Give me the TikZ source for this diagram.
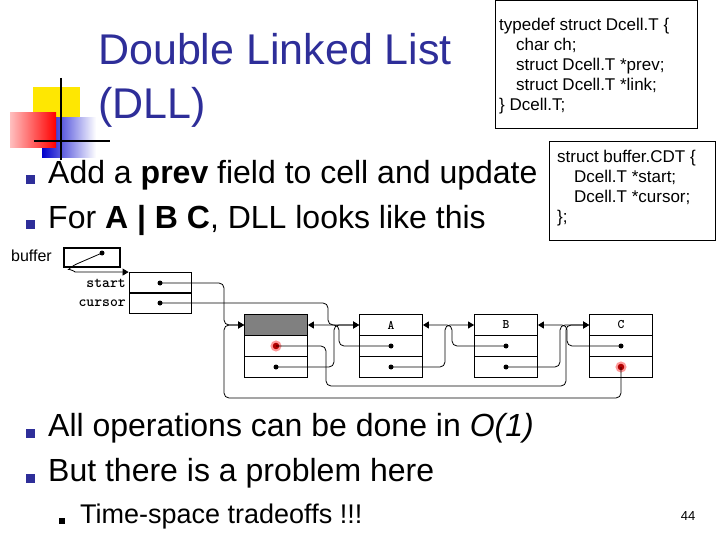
\documentclass[tikz,border=0pt]{standalone}
\usepackage{fontspec}
\setmainfont{Liberation Sans}
\usetikzlibrary{arrows.meta,shadings}
\definecolor{navy}{HTML}{2E2E99}
\begin{document}
\begin{tikzpicture}[x=1pt,y=-1pt,
  cellrow/.style={draw,thick,minimum width=63pt,minimum height=21pt,inner sep=0pt},
  dot/.style={circle,fill=black,inner sep=0pt,minimum size=5pt},
  reddot/.style={circle,fill=red!70!black,draw=red!40,line width=2pt,inner sep=0pt,minimum size=9pt},
  ptr/.style={line width=0.8pt,rounded corners=5pt,-{Triangle[length=6pt,width=7pt]}},
  bul/.style={fill=navy,minimum size=9pt,inner sep=0pt},
  codebox/.style={draw,thick,anchor=north west,inner sep=0pt},
  codetxt/.style={anchor=north west,align=left,inner sep=0pt,font=\fontsize{17}{20}\selectfont},
  big/.style={anchor=west,font=\fontsize{32}{35}\selectfont,inner sep=0pt},
  lab/.style={font=\ttfamily\bfseries\fontsize{15}{15}\selectfont,anchor=east,inner sep=1pt}]
\useasboundingbox (0,0) rectangle (720,540);
% logo
\fill[yellow!90!orange] (33,87) rectangle (80,120);
\shade[left color=blue!80!black,right color=white] (42,118) rectangle (96,158);
\shade[left color=red!25,right color=red] (10,113) rectangle (56,148);
\draw[line width=1.5pt] (61,78) -- (61,160);
\draw[line width=1.5pt] (34,141) -- (110,141);
% title
\node[anchor=west,text=navy,font=\fontsize{43}{54}\selectfont,align=left,inner sep=0pt] (title) at (98,80) {Double Linked List\\(DLL)};
% code boxes
\node[codebox,minimum width=202pt,minimum height=128pt] (code1) at (495,0) {};
\node[codetxt] (code1t) at (499,18) {typedef struct Dcell.T \{\\\quad char ch;\\\quad struct Dcell.T *prev;\\\quad struct Dcell.T *link;\\\} Dcell.T;};
\node[codebox,minimum width=166pt,minimum height=99pt] (code2) at (549,141) {};
\node[codetxt] (code2t) at (557,150) {struct buffer.CDT \{\\\quad Dcell.T *start;\\\quad Dcell.T *cursor;\\\};};
% bullets
\node[bul] (b1) at (30,180) {}; \node[big] (t1) at (48,175) {Add a \textbf{prev} field to cell and update};
\node[bul] (b2) at (30,225) {}; \node[big] (t2) at (48,220) {For \textbf{A | B C}, DLL looks like this};
\node[bul] (b3) at (30,433) {}; \node[big] (t3) at (48,428) {All operations can be done in \textit{O(1)}};
\node[bul] (b4) at (30,478) {}; \node[big] (t4) at (48,473) {But there is a problem here};
\node[fill=black,minimum size=6pt,inner sep=0pt] (b5) at (62,521) {}; \node[anchor=west,font=\fontsize{27}{30}\selectfont,inner sep=0pt] (t5) at (80,517) {Time-space tradeoffs !!!};
\node[font=\fontsize{13}{13}\selectfont] (pg) at (688,516) {44};
% buffer
\node[anchor=west,font=\fontsize{16}{16}\selectfont,inner sep=0pt] (buflab) at (11,256) {buffer};
\node[draw,line width=2pt,minimum width=56pt,minimum height=19pt,inner sep=0pt] (buf) at (92,257) {};
\node[dot] (bufd) at (102,253) {};
% struct
\node[cellrow,minimum width=62pt] (st) at (160,283) {}; \node[cellrow,minimum width=62pt] (cu) at (160,303) {};
\node[lab] (stl) at (127,283) {start}; \node[lab] (cul) at (127,303) {cursor};
\node[dot] (std) at (160,283) {}; \node[dot] (cud) at (160,303) {};
% cells
\foreach \n/\x/\c in {z/276/, a/391/A, b/506/B, c/621/C}{
  \node[cellrow,font=\ttfamily\bfseries\fontsize{13}{13}\selectfont] (\n0) at (\x,325) {\c};
  \node[cellrow] (\n1) at (\x,346) {};
  \node[cellrow] (\n2) at (\x,367) {};
}
\fill[gray] ([shift={(0.6,0.6)}]z0.north west) rectangle ([shift={(-0.6,-0.6)}]z0.south east);
\node[draw,thick,minimum width=63pt,minimum height=21pt] at (276,325) {};
\node[reddot] (zp) at (276,346) {}; \node[dot] (zl) at (276,367) {};
\node[dot] (ap) at (391,346) {}; \node[dot] (al) at (391,367) {};
\node[dot] (bp) at (506,346) {}; \node[dot] (bl) at (506,367) {};
\node[dot] (cp) at (621,346) {}; \node[reddot] (cl) at (621,367) {};
% pointers
\draw[ptr] (bufd.center) -- (72,266) to[out=225,in=180] (80,272) -- (st.north west);
\draw[ptr] (std.center) -- (224,283) -- (224,325) -- (z0.west);
\draw[ptr] (cud.center) -- (328,303) -- (328,325) -- (a0.west);
\draw[ptr] (zl.center) -- (334,367) -- (334,325) -- (a0.west);
\draw[ptr] (ap.center) -- (339,346) -- (339,325) -- (z0.east);
\draw[ptr] (al.center) -- (445,367) -- (445,325) -- (b0.west);
\draw[ptr] (bp.center) -- (452,346) -- (452,325) -- (a0.east);
\draw[ptr] (bl.center) -- (560,367) -- (560,325) -- (c0.west);
\draw[ptr] (cp.center) -- (567,346) -- (567,325) -- (b0.east);
\draw[ptr] (zp.center) -- (326,346) -- (326,386) -- (566,386) -- (566,325) -- (c0.west);
\draw[ptr] (cl.center) -- (621,398) -- (224,398) -- (224,325) -- (z0.west);
\end{tikzpicture}
\end{document}
